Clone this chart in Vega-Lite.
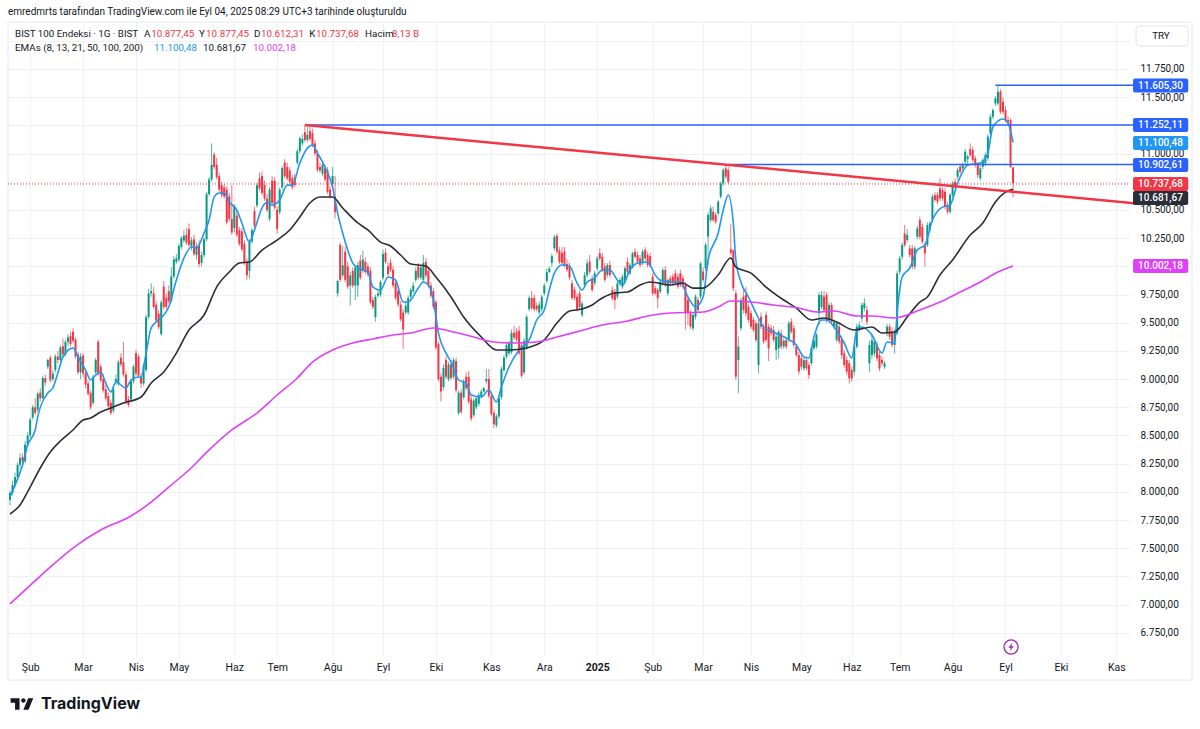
{"$schema":"https://vega.github.io/schema/vega-lite/v6.json","width":1122,"height":634,"autosize":{"type":"none"},"padding":{"left":8,"top":22,"right":70,"bottom":73},"background":"#ffffff","config":{"view":{"stroke":null},"text":{"font":"Roboto"},"axis":{"labelOverlap":false}},
"datasets":{"candles":[
{"t":0,"o":7930,"h":8010,"l":7880,"c":7990},{"t":1,"o":7990,"h":8100,"l":7970,"c":8060},{"t":2,"o":8060,"h":8170,"l":8040,"c":8130},{"t":3,"o":8130,"h":8260,"l":8110,"c":8240},{"t":4,"o":8240,"h":8340,"l":8210,"c":8300},{"t":5,"o":8310,"h":8340,"l":8240,"c":8270},{"t":6,"o":8270,"h":8450,"l":8260,"c":8420},{"t":7,"o":8420,"h":8530,"l":8400,"c":8500},{"t":8,"o":8500,"h":8660,"l":8480,"c":8640},{"t":9,"o":8660,"h":8770,"l":8640,"c":8750},
{"t":10,"o":8750,"h":8830,"l":8680,"c":8700},{"t":11,"o":8730,"h":8890,"l":8710,"c":8870},{"t":12,"o":8880,"h":8920,"l":8800,"c":8830},{"t":13,"o":8830,"h":9030,"l":8820,"c":9010},{"t":14,"o":9010,"h":9040,"l":8940,"c":8970},{"t":15,"o":9110,"h":9180,"l":9090,"c":9170},{"t":16,"o":9190,"h":9210,"l":8970,"c":8990},{"t":17,"o":9000,"h":9080,"l":8980,"c":9050},{"t":18,"o":9080,"h":9220,"l":9060,"c":9200},{"t":19,"o":9200,"h":9250,"l":9140,"c":9170},
{"t":20,"o":9170,"h":9300,"l":9150,"c":9280},{"t":21,"o":9290,"h":9360,"l":9200,"c":9220},{"t":22,"o":9220,"h":9350,"l":9200,"c":9330},{"t":23,"o":9330,"h":9400,"l":9290,"c":9370},{"t":24,"o":9380,"h":9420,"l":9290,"c":9310},{"t":25,"o":9420,"h":9450,"l":9320,"c":9340},{"t":26,"o":9350,"h":9370,"l":9180,"c":9200},{"t":27,"o":9220,"h":9240,"l":9040,"c":9060},{"t":28,"o":9060,"h":9230,"l":9000,"c":9200},{"t":29,"o":9210,"h":9230,"l":9020,"c":9050},
{"t":30,"o":9050,"h":9080,"l":8920,"c":8950},{"t":31,"o":8960,"h":8990,"l":8850,"c":8870},{"t":32,"o":8880,"h":8900,"l":8730,"c":8750},{"t":33,"o":8790,"h":9040,"l":8770,"c":9020},{"t":34,"o":9060,"h":9190,"l":9040,"c":9170},{"t":35,"o":9330,"h":9350,"l":9030,"c":9050},{"t":36,"o":9110,"h":9130,"l":8970,"c":8990},{"t":37,"o":9000,"h":9040,"l":8880,"c":8900},{"t":38,"o":8910,"h":8950,"l":8810,"c":8830},{"t":39,"o":8850,"h":8880,"l":8740,"c":8760},
{"t":40,"o":8790,"h":8820,"l":8680,"c":8700},{"t":41,"o":8720,"h":8930,"l":8700,"c":8910},{"t":42,"o":8970,"h":9040,"l":8950,"c":9000},{"t":43,"o":8960,"h":9170,"l":8940,"c":9150},{"t":44,"o":9190,"h":9230,"l":9110,"c":9130},{"t":45,"o":9150,"h":9330,"l":9020,"c":9040},{"t":46,"o":9040,"h":9070,"l":8780,"c":8800},{"t":47,"o":8820,"h":8850,"l":8750,"c":8770},{"t":48,"o":8820,"h":9000,"l":8800,"c":8980},{"t":49,"o":8980,"h":9130,"l":8960,"c":9110},
{"t":50,"o":9230,"h":9260,"l":9030,"c":9050},{"t":51,"o":9200,"h":9220,"l":9010,"c":9030},{"t":52,"o":9020,"h":9050,"l":8920,"c":8960},{"t":53,"o":8960,"h":9140,"l":8940,"c":9120},{"t":54,"o":9080,"h":9570,"l":9060,"c":9550},{"t":55,"o":9550,"h":9800,"l":9530,"c":9760},{"t":56,"o":9760,"h":9850,"l":9730,"c":9780},{"t":57,"o":9760,"h":9820,"l":9620,"c":9640},{"t":58,"o":9660,"h":9690,"l":9500,"c":9520},{"t":59,"o":9580,"h":9610,"l":9440,"c":9460},
{"t":60,"o":9400,"h":9700,"l":9380,"c":9680},{"t":61,"o":9820,"h":9870,"l":9620,"c":9640},{"t":62,"o":9720,"h":9760,"l":9620,"c":9640},{"t":63,"o":9780,"h":9830,"l":9670,"c":9690},{"t":64,"o":9700,"h":9990,"l":9680,"c":9910},{"t":65,"o":9910,"h":10090,"l":9890,"c":10060},{"t":66,"o":10040,"h":10110,"l":10020,"c":10070},{"t":67,"o":10060,"h":10200,"l":10040,"c":10180},{"t":68,"o":10170,"h":10270,"l":10150,"c":10250},{"t":69,"o":10230,"h":10320,"l":10210,"c":10270},
{"t":70,"o":10280,"h":10340,"l":10190,"c":10210},{"t":71,"o":10330,"h":10380,"l":10170,"c":10190},{"t":72,"o":10180,"h":10260,"l":10140,"c":10230},{"t":73,"o":10240,"h":10280,"l":10090,"c":10110},{"t":74,"o":10100,"h":10210,"l":10060,"c":10180},{"t":75,"o":10190,"h":10230,"l":9990,"c":10020},{"t":76,"o":10030,"h":10130,"l":10000,"c":10100},{"t":77,"o":10100,"h":10260,"l":10080,"c":10240},{"t":78,"o":10240,"h":10660,"l":10220,"c":10640},{"t":79,"o":10640,"h":10790,"l":10620,"c":10770},
{"t":80,"o":10770,"h":11090,"l":10750,"c":10900},{"t":81,"o":10990,"h":11010,"l":10860,"c":10880},{"t":82,"o":10900,"h":10960,"l":10770,"c":10790},{"t":83,"o":10800,"h":10830,"l":10660,"c":10680},{"t":84,"o":10720,"h":10750,"l":10610,"c":10630},{"t":85,"o":10700,"h":10730,"l":10600,"c":10620},{"t":86,"o":10680,"h":10710,"l":10370,"c":10390},{"t":87,"o":10620,"h":10650,"l":10400,"c":10420},{"t":88,"o":10420,"h":10720,"l":10280,"c":10300},{"t":89,"o":10340,"h":10550,"l":10300,"c":10530},
{"t":90,"o":10450,"h":10490,"l":10260,"c":10280},{"t":91,"o":10320,"h":10350,"l":10180,"c":10200},{"t":92,"o":10310,"h":10340,"l":10130,"c":10150},{"t":93,"o":10200,"h":10230,"l":10010,"c":10030},{"t":94,"o":10040,"h":10070,"l":9880,"c":9920},{"t":95,"o":9960,"h":10240,"l":9890,"c":10220},{"t":96,"o":10220,"h":10340,"l":10200,"c":10320},{"t":97,"o":10490,"h":10530,"l":10340,"c":10360},{"t":98,"o":10540,"h":10740,"l":10520,"c":10720},{"t":99,"o":10780,"h":10830,"l":10670,"c":10690},
{"t":100,"o":10800,"h":10840,"l":10630,"c":10650},{"t":101,"o":10720,"h":10760,"l":10580,"c":10600},{"t":102,"o":10600,"h":10640,"l":10480,"c":10500},{"t":103,"o":10420,"h":10700,"l":10400,"c":10680},{"t":104,"o":10760,"h":10800,"l":10540,"c":10560},{"t":105,"o":10760,"h":10790,"l":10500,"c":10520},{"t":106,"o":10500,"h":10530,"l":10290,"c":10330},{"t":107,"o":10480,"h":10700,"l":10460,"c":10680},{"t":108,"o":10700,"h":10890,"l":10680,"c":10870},{"t":109,"o":10920,"h":10950,"l":10780,"c":10800},
{"t":110,"o":10880,"h":10920,"l":10760,"c":10780},{"t":111,"o":10850,"h":10880,"l":10730,"c":10750},{"t":112,"o":10780,"h":10810,"l":10680,"c":10700},{"t":113,"o":10790,"h":10820,"l":10700,"c":10720},{"t":114,"o":10920,"h":11040,"l":10900,"c":11020},{"t":115,"o":11020,"h":11150,"l":11000,"c":11135},{"t":116,"o":11090,"h":11170,"l":11070,"c":11130},{"t":117,"o":11190,"h":11252,"l":11100,"c":11120},{"t":118,"o":11120,"h":11240,"l":11100,"c":11165},{"t":119,"o":11200,"h":11240,"l":11110,"c":11130},
{"t":120,"o":11180,"h":11220,"l":11055,"c":11075},{"t":121,"o":11090,"h":11120,"l":10980,"c":11000},{"t":122,"o":11000,"h":11030,"l":10835,"c":10855},{"t":123,"o":10880,"h":10920,"l":10830,"c":10850},{"t":124,"o":10820,"h":10920,"l":10800,"c":10900},{"t":125,"o":10870,"h":10900,"l":10750,"c":10770},{"t":126,"o":10850,"h":10880,"l":10640,"c":10660},{"t":127,"o":10680,"h":10710,"l":10600,"c":10620},{"t":128,"o":10730,"h":10880,"l":10710,"c":10800},{"t":129,"o":10620,"h":10800,"l":10425,"c":10480},
{"t":130,"o":9760,"h":9880,"l":9730,"c":9870},{"t":131,"o":10190,"h":10210,"l":9860,"c":9880},{"t":132,"o":9920,"h":10180,"l":9900,"c":10010},{"t":133,"o":10130,"h":10170,"l":9860,"c":9880},{"t":134,"o":10000,"h":10040,"l":9800,"c":9820},{"t":135,"o":9830,"h":9950,"l":9650,"c":9920},{"t":136,"o":9960,"h":9990,"l":9810,"c":9830},{"t":137,"o":9830,"h":10010,"l":9700,"c":9990},{"t":138,"o":9830,"h":10040,"l":9730,"c":10010},{"t":139,"o":10050,"h":10100,"l":9880,"c":9900},
{"t":140,"o":9960,"h":10140,"l":9940,"c":10060},{"t":141,"o":10040,"h":10080,"l":9930,"c":9950},{"t":142,"o":10000,"h":10030,"l":9910,"c":9930},{"t":143,"o":9960,"h":9990,"l":9660,"c":9680},{"t":144,"o":9700,"h":9730,"l":9620,"c":9640},{"t":145,"o":9550,"h":9750,"l":9510,"c":9730},{"t":146,"o":9740,"h":9790,"l":9720,"c":9760},{"t":147,"o":9750,"h":9880,"l":9730,"c":9860},{"t":148,"o":9900,"h":10150,"l":9880,"c":10110},{"t":149,"o":10120,"h":10160,"l":10020,"c":10040},
{"t":150,"o":10000,"h":10040,"l":9910,"c":9930},{"t":151,"o":10030,"h":10070,"l":9950,"c":9970},{"t":152,"o":9970,"h":10000,"l":9810,"c":9830},{"t":153,"o":9850,"h":9890,"l":9700,"c":9720},{"t":154,"o":9780,"h":9810,"l":9640,"c":9660},{"t":155,"o":9660,"h":9690,"l":9510,"c":9530},{"t":156,"o":9590,"h":9620,"l":9270,"c":9440},{"t":157,"o":9590,"h":9690,"l":9570,"c":9650},{"t":158,"o":9590,"h":9740,"l":9570,"c":9720},{"t":159,"o":9730,"h":9810,"l":9700,"c":9790},
{"t":160,"o":9780,"h":9860,"l":9760,"c":9830},{"t":161,"o":9880,"h":9990,"l":9860,"c":9960},{"t":162,"o":10000,"h":10030,"l":9880,"c":9900},{"t":163,"o":9900,"h":10010,"l":9880,"c":9990},{"t":164,"o":9880,"h":10100,"l":9860,"c":10030},{"t":165,"o":10040,"h":10070,"l":9900,"c":9920},{"t":166,"o":9960,"h":9990,"l":9810,"c":9830},{"t":167,"o":9830,"h":9860,"l":9720,"c":9740},{"t":168,"o":9780,"h":9810,"l":9620,"c":9640},{"t":169,"o":9680,"h":9700,"l":9260,"c":9280},
{"t":170,"o":9310,"h":9330,"l":8980,"c":9000},{"t":171,"o":9020,"h":9050,"l":8800,"c":8890},{"t":172,"o":8930,"h":9130,"l":8900,"c":9100},{"t":173,"o":9170,"h":9200,"l":9000,"c":9020},{"t":174,"o":9000,"h":9150,"l":8980,"c":9130},{"t":175,"o":9130,"h":9170,"l":8990,"c":9010},{"t":176,"o":9020,"h":9190,"l":9000,"c":9170},{"t":177,"o":9160,"h":9190,"l":8880,"c":8900},{"t":178,"o":8700,"h":8900,"l":8680,"c":8880},{"t":179,"o":8880,"h":8910,"l":8690,"c":8710},
{"t":180,"o":8840,"h":9000,"l":8820,"c":8980},{"t":181,"o":9020,"h":9060,"l":8900,"c":8920},{"t":182,"o":9020,"h":9070,"l":8780,"c":8800},{"t":183,"o":8820,"h":8850,"l":8630,"c":8650},{"t":184,"o":8680,"h":8830,"l":8660,"c":8810},{"t":185,"o":8750,"h":8850,"l":8730,"c":8830},{"t":186,"o":8780,"h":8880,"l":8760,"c":8860},{"t":187,"o":8850,"h":8910,"l":8830,"c":8890},{"t":188,"o":8890,"h":8930,"l":8880,"c":8920},{"t":189,"o":8980,"h":9090,"l":8960,"c":9000},
{"t":190,"o":9000,"h":9090,"l":8830,"c":8850},{"t":191,"o":8850,"h":8880,"l":8670,"c":8690},{"t":192,"o":8700,"h":8730,"l":8566,"c":8600},{"t":193,"o":8590,"h":8690,"l":8570,"c":8670},{"t":194,"o":8670,"h":8850,"l":8650,"c":8830},{"t":195,"o":8840,"h":9110,"l":8820,"c":9090},{"t":196,"o":9080,"h":9210,"l":9060,"c":9190},{"t":197,"o":9200,"h":9330,"l":9180,"c":9300},{"t":198,"o":9230,"h":9340,"l":9210,"c":9320},{"t":199,"o":9240,"h":9440,"l":9220,"c":9410},
{"t":200,"o":9410,"h":9470,"l":9350,"c":9370},{"t":201,"o":9420,"h":9450,"l":9330,"c":9350},{"t":202,"o":9430,"h":9470,"l":9210,"c":9230},{"t":203,"o":9300,"h":9330,"l":9010,"c":9030},{"t":204,"o":9060,"h":9360,"l":9040,"c":9340},{"t":205,"o":9280,"h":9570,"l":9260,"c":9550},{"t":206,"o":9620,"h":9740,"l":9600,"c":9720},{"t":207,"o":9720,"h":9780,"l":9610,"c":9630},{"t":208,"o":9720,"h":9750,"l":9600,"c":9620},{"t":209,"o":9650,"h":9680,"l":9600,"c":9620},
{"t":210,"o":9590,"h":9690,"l":9570,"c":9660},{"t":211,"o":9620,"h":9750,"l":9600,"c":9730},{"t":212,"o":9760,"h":9850,"l":9740,"c":9830},{"t":213,"o":9870,"h":9980,"l":9850,"c":9950},{"t":214,"o":9950,"h":10000,"l":9940,"c":9980},{"t":215,"o":10030,"h":10110,"l":9990,"c":10090},{"t":216,"o":10160,"h":10280,"l":10140,"c":10260},{"t":217,"o":10270,"h":10290,"l":10110,"c":10130},{"t":218,"o":10140,"h":10170,"l":10020,"c":10040},{"t":219,"o":10120,"h":10170,"l":10010,"c":10030},
{"t":220,"o":10130,"h":10170,"l":9990,"c":10010},{"t":221,"o":10020,"h":10060,"l":9950,"c":9970},{"t":222,"o":10000,"h":10030,"l":9880,"c":9900},{"t":223,"o":9850,"h":9880,"l":9700,"c":9720},{"t":224,"o":9790,"h":9820,"l":9700,"c":9720},{"t":225,"o":9730,"h":9760,"l":9600,"c":9620},{"t":226,"o":9760,"h":9790,"l":9620,"c":9640},{"t":227,"o":9570,"h":9690,"l":9550,"c":9670},{"t":228,"o":9835,"h":9950,"l":9810,"c":9920},{"t":229,"o":9920,"h":10060,"l":9900,"c":10026},
{"t":230,"o":10041,"h":10100,"l":9930,"c":9952},{"t":231,"o":9893,"h":9920,"l":9770,"c":9790},{"t":232,"o":9850,"h":9960,"l":9830,"c":9938},{"t":233,"o":9982,"h":10090,"l":9960,"c":10070},{"t":234,"o":10115,"h":10160,"l":10050,"c":10070},{"t":235,"o":10085,"h":10120,"l":9950,"c":9967},{"t":236,"o":9997,"h":10030,"l":9860,"c":9880},{"t":237,"o":9923,"h":10030,"l":9900,"c":10011},{"t":238,"o":10011,"h":10050,"l":9900,"c":9923},{"t":239,"o":9790,"h":9820,"l":9695,"c":9716},
{"t":240,"o":9775,"h":9800,"l":9620,"c":9701},{"t":241,"o":9731,"h":9870,"l":9710,"c":9849},{"t":242,"o":9849,"h":9900,"l":9830,"c":9880},{"t":243,"o":9820,"h":9930,"l":9800,"c":9908},{"t":244,"o":9864,"h":10000,"l":9840,"c":9982},{"t":245,"o":10041,"h":10080,"l":9930,"c":9952},{"t":246,"o":9938,"h":10030,"l":9920,"c":10011},{"t":247,"o":9997,"h":10130,"l":9980,"c":10115},{"t":248,"o":10130,"h":10160,"l":10070,"c":10085},{"t":249,"o":10100,"h":10130,"l":10020,"c":10041},
{"t":250,"o":10070,"h":10100,"l":9990,"c":10011},{"t":251,"o":10026,"h":10150,"l":10010,"c":10130},{"t":252,"o":10145,"h":10170,"l":10050,"c":10071},{"t":253,"o":10100,"h":10130,"l":9990,"c":10011},{"t":254,"o":10090,"h":10120,"l":9985,"c":10003},{"t":255,"o":9908,"h":9940,"l":9740,"c":9760},{"t":256,"o":9805,"h":9830,"l":9745,"c":9760},{"t":257,"o":9790,"h":9810,"l":9627,"c":9716},{"t":258,"o":9775,"h":9880,"l":9755,"c":9864},{"t":259,"o":9849,"h":9990,"l":9830,"c":9967},
{"t":260,"o":9967,"h":10000,"l":9815,"c":9834},{"t":261,"o":9760,"h":9895,"l":9740,"c":9878},{"t":262,"o":9893,"h":9920,"l":9830,"c":9849},{"t":263,"o":9908,"h":9935,"l":9830,"c":9849},{"t":264,"o":9938,"h":9970,"l":9830,"c":9849},{"t":265,"o":9908,"h":9935,"l":9800,"c":9820},{"t":266,"o":9938,"h":9970,"l":9815,"c":9834},{"t":267,"o":9893,"h":9920,"l":9800,"c":9820},{"t":268,"o":9834,"h":9860,"l":9440,"c":9583},{"t":269,"o":9701,"h":9730,"l":9480,"c":9583},
{"t":270,"o":9583,"h":9610,"l":9445,"c":9465},{"t":271,"o":9450,"h":9590,"l":9430,"c":9568},{"t":272,"o":9553,"h":9750,"l":9530,"c":9731},{"t":273,"o":9701,"h":9730,"l":9590,"c":9613},{"t":274,"o":9731,"h":10040,"l":9710,"c":10026},{"t":275,"o":9953,"h":9990,"l":9860,"c":9879},{"t":276,"o":9982,"h":10210,"l":9960,"c":10189},{"t":277,"o":10263,"h":10480,"l":10010,"c":10455},{"t":278,"o":10410,"h":10540,"l":10390,"c":10514},{"t":279,"o":10484,"h":10530,"l":10390,"c":10410},
{"t":280,"o":10455,"h":10480,"l":10375,"c":10396},{"t":281,"o":10470,"h":10590,"l":10450,"c":10573},{"t":282,"o":10617,"h":10750,"l":10600,"c":10735},{"t":283,"o":10735,"h":10870,"l":10715,"c":10854},{"t":284,"o":10868,"h":10902,"l":10775,"c":10795},{"t":285,"o":10854,"h":10880,"l":10730,"c":10750},{"t":286,"o":10150,"h":10370,"l":10100,"c":10120},{"t":287,"o":10140,"h":10150,"l":9780,"c":9805},{"t":288,"o":9760,"h":9790,"l":8990,"c":9022},{"t":289,"o":9170,"h":9376,"l":8874,"c":9288},
{"t":290,"o":9450,"h":9720,"l":9430,"c":9701},{"t":291,"o":9731,"h":9800,"l":9580,"c":9613},{"t":292,"o":9746,"h":9820,"l":9560,"c":9583},{"t":293,"o":9642,"h":9670,"l":9500,"c":9524},{"t":294,"o":9583,"h":9610,"l":9445,"c":9465},{"t":295,"o":9524,"h":9550,"l":9415,"c":9435},{"t":296,"o":9494,"h":9520,"l":9325,"c":9347},{"t":297,"o":9125,"h":9520,"l":9050,"c":9494},{"t":298,"o":9553,"h":9590,"l":9445,"c":9465},{"t":299,"o":9465,"h":9490,"l":9310,"c":9332},
{"t":300,"o":9568,"h":9600,"l":9325,"c":9347},{"t":301,"o":9465,"h":9490,"l":9160,"c":9273},{"t":302,"o":9450,"h":9480,"l":9385,"c":9406},{"t":303,"o":9435,"h":9470,"l":9325,"c":9347},{"t":304,"o":9258,"h":9400,"l":9170,"c":9376},{"t":305,"o":9273,"h":9440,"l":9180,"c":9420},{"t":306,"o":9406,"h":9440,"l":9265,"c":9288},{"t":307,"o":9290,"h":9360,"l":9270,"c":9340},{"t":308,"o":9347,"h":9370,"l":9265,"c":9288},{"t":309,"o":9347,"h":9515,"l":9325,"c":9494},
{"t":310,"o":9509,"h":9540,"l":9400,"c":9420},{"t":311,"o":9450,"h":9480,"l":9280,"c":9302},{"t":312,"o":9288,"h":9310,"l":9195,"c":9214},{"t":313,"o":9214,"h":9240,"l":9040,"c":9066},{"t":314,"o":9184,"h":9210,"l":9085,"c":9110},{"t":315,"o":9095,"h":9190,"l":9075,"c":9169},{"t":316,"o":9169,"h":9200,"l":9075,"c":9095},{"t":317,"o":9125,"h":9150,"l":9000,"c":9036},{"t":318,"o":9140,"h":9290,"l":9120,"c":9273},{"t":319,"o":9273,"h":9360,"l":9255,"c":9340},
{"t":320,"o":9288,"h":9410,"l":9270,"c":9391},{"t":321,"o":9583,"h":9770,"l":9480,"c":9746},{"t":322,"o":9640,"h":9780,"l":9620,"c":9746},{"t":323,"o":9731,"h":9780,"l":9590,"c":9613},{"t":324,"o":9746,"h":9770,"l":9500,"c":9524},{"t":325,"o":9524,"h":9680,"l":9500,"c":9657},{"t":326,"o":9657,"h":9680,"l":9490,"c":9509},{"t":327,"o":9465,"h":9530,"l":9445,"c":9509},{"t":328,"o":9347,"h":9510,"l":9325,"c":9494},{"t":329,"o":9465,"h":9490,"l":9310,"c":9332},
{"t":330,"o":9346,"h":9380,"l":9180,"c":9213},{"t":331,"o":9228,"h":9260,"l":9100,"c":9125},{"t":332,"o":9169,"h":9200,"l":9040,"c":9066},{"t":333,"o":9140,"h":9170,"l":8962,"c":9007},{"t":334,"o":9080,"h":9110,"l":8977,"c":9007},{"t":335,"o":9066,"h":9300,"l":9030,"c":9287},{"t":336,"o":9287,"h":9490,"l":9270,"c":9465},{"t":337,"o":9450,"h":9510,"l":9420,"c":9479},{"t":338,"o":9538,"h":9680,"l":9510,"c":9657},{"t":339,"o":9627,"h":9716,"l":9600,"c":9672},
{"t":340,"o":9612,"h":9650,"l":9480,"c":9509},{"t":341,"o":9140,"h":9340,"l":9060,"c":9302},{"t":342,"o":9213,"h":9406,"l":9180,"c":9346},{"t":343,"o":9228,"h":9350,"l":9200,"c":9332},{"t":344,"o":9302,"h":9330,"l":9160,"c":9184},{"t":345,"o":9213,"h":9240,"l":9070,"c":9095},{"t":346,"o":9169,"h":9200,"l":9120,"c":9140},{"t":347,"o":9110,"h":9160,"l":9090,"c":9140},{"t":348,"o":9406,"h":9490,"l":9380,"c":9465},{"t":349,"o":9465,"h":9490,"l":9350,"c":9376},
{"t":350,"o":9420,"h":9460,"l":9280,"c":9302},{"t":351,"o":9302,"h":9440,"l":9228,"c":9420},{"t":352,"o":9406,"h":9960,"l":9390,"c":9937},{"t":353,"o":9952,"h":10090,"l":9930,"c":10070},{"t":354,"o":10085,"h":10210,"l":10060,"c":10189},{"t":355,"o":10292,"h":10366,"l":10170,"c":10189},{"t":356,"o":10233,"h":10330,"l":10210,"c":10277},{"t":357,"o":10159,"h":10190,"l":10080,"c":10100},{"t":358,"o":10159,"h":10190,"l":9975,"c":9997},{"t":359,"o":9997,"h":10180,"l":9970,"c":10159},
{"t":360,"o":10262,"h":10360,"l":10240,"c":10336},{"t":361,"o":10410,"h":10440,"l":10240,"c":10262},{"t":362,"o":10351,"h":10380,"l":10195,"c":10218},{"t":363,"o":10189,"h":10210,"l":9997,"c":10115},{"t":364,"o":10189,"h":10390,"l":10170,"c":10366},{"t":365,"o":10322,"h":10400,"l":10300,"c":10381},{"t":366,"o":10410,"h":10640,"l":10390,"c":10617},{"t":367,"o":10632,"h":10660,"l":10570,"c":10588},{"t":368,"o":10632,"h":10660,"l":10550,"c":10573},{"t":369,"o":10691,"h":10780,"l":10580,"c":10602},
{"t":370,"o":10676,"h":10700,"l":10580,"c":10602},{"t":371,"o":10661,"h":10690,"l":10505,"c":10528},{"t":372,"o":10543,"h":10570,"l":10460,"c":10484},{"t":373,"o":10484,"h":10650,"l":10465,"c":10632},{"t":374,"o":10632,"h":10755,"l":10610,"c":10735},{"t":375,"o":10750,"h":10780,"l":10685,"c":10706},{"t":376,"o":10794,"h":10875,"l":10770,"c":10853},{"t":377,"o":10883,"h":10910,"l":10820,"c":10839},{"t":378,"o":10868,"h":10920,"l":10850,"c":10898},{"t":379,"o":10927,"h":11040,"l":10905,"c":11016},
{"t":380,"o":10950,"h":10990,"l":10900,"c":10975},{"t":381,"o":11040,"h":11090,"l":10965,"c":10986},{"t":382,"o":11031,"h":11060,"l":10920,"c":10942},{"t":383,"o":10957,"h":10980,"l":10875,"c":10898},{"t":384,"o":10898,"h":10920,"l":10780,"c":10809},{"t":385,"o":10781,"h":10890,"l":10760,"c":10868},{"t":386,"o":10883,"h":10960,"l":10860,"c":10942},{"t":387,"o":10912,"h":11010,"l":10890,"c":10986},{"t":388,"o":10957,"h":11170,"l":10935,"c":11149},{"t":389,"o":11179,"h":11350,"l":11160,"c":11326},
{"t":390,"o":11326,"h":11400,"l":11305,"c":11385},{"t":391,"o":11444,"h":11510,"l":11420,"c":11489},{"t":392,"o":11444,"h":11605,"l":11425,"c":11548},{"t":393,"o":11548,"h":11570,"l":11350,"c":11371},{"t":394,"o":11459,"h":11500,"l":11350,"c":11371},{"t":395,"o":11385,"h":11420,"l":11275,"c":11297},{"t":396,"o":11297,"h":11330,"l":11250,"c":11282},{"t":397,"o":11297,"h":11310,"l":10870,"c":10883},{"t":398,"o":10877,"h":10877,"l":10612,"c":10737}
],
"emas":[
{"t":0,"v":7955,"s":"ema-fast"},{"t":2,"v":8060,"s":"ema-fast"},{"t":5,"v":8238,"s":"ema-fast"},{"t":7,"v":8415,"s":"ema-fast"},{"t":10,"v":8549,"s":"ema-fast"},{"t":11,"v":8664,"s":"ema-fast"},{"t":15,"v":8877,"s":"ema-fast"},{"t":17,"v":8921,"s":"ema-fast"},{"t":19,"v":9054,"s":"ema-fast"},{"t":21,"v":9196,"s":"ema-fast"},{"t":25,"v":9276,"s":"ema-fast"},{"t":27,"v":9196,"s":"ema-fast"},{"t":30,"v":9080,"s":"ema-fast"},{"t":32,"v":8992,"s":"ema-fast"},{"t":34,"v":9036,"s":"ema-fast"},{"t":36,"v":9063,"s":"ema-fast"},{"t":38,"v":8965,"s":"ema-fast"},{"t":40,"v":8886,"s":"ema-fast"},{"t":42,"v":8974,"s":"ema-fast"},{"t":46,"v":8921,"s":"ema-fast"},{"t":48,"v":8992,"s":"ema-fast"},{"t":51,"v":9019,"s":"ema-fast"},{"t":52,"v":9019,"s":"ema-fast"},{"t":54,"v":9231,"s":"ema-fast"},{"t":56,"v":9453,"s":"ema-fast"},{"t":58,"v":9506,"s":"ema-fast"},{"t":61,"v":9568,"s":"ema-fast"},{"t":63,"v":9639,"s":"ema-fast"},{"t":66,"v":9878,"s":"ema-fast"},{"t":69,"v":10073,"s":"ema-fast"},{"t":72,"v":10171,"s":"ema-fast"},{"t":74,"v":10162,"s":"ema-fast"},{"t":77,"v":10295,"s":"ema-fast"},{"t":79,"v":10410,"s":"ema-fast"},{"t":81,"v":10614,"s":"ema-fast"},{"t":83,"v":10650,"s":"ema-fast"},{"t":85,"v":10650,"s":"ema-fast"},{"t":87,"v":10570,"s":"ema-fast"},{"t":90,"v":10499,"s":"ema-fast"},{"t":92,"v":10384,"s":"ema-fast"},{"t":95,"v":10215,"s":"ema-fast"},{"t":97,"v":10322,"s":"ema-fast"},{"t":100,"v":10517,"s":"ema-fast"},{"t":102,"v":10570,"s":"ema-fast"},{"t":104,"v":10543,"s":"ema-fast"},{"t":107,"v":10588,"s":"ema-fast"},{"t":110,"v":10720,"s":"ema-fast"},{"t":112,"v":10720,"s":"ema-fast"},{"t":115,"v":10916,"s":"ema-fast"},{"t":118,"v":11048,"s":"ema-fast"},{"t":120,"v":11075,"s":"ema-fast"},{"t":122,"v":11004,"s":"ema-fast"},{"t":125,"v":10880,"s":"ema-fast"},{"t":128,"v":10703,"s":"ema-fast"},{"t":130,"v":10472,"s":"ema-fast"},{"t":132,"v":10295,"s":"ema-fast"},{"t":134,"v":10144,"s":"ema-fast"},{"t":136,"v":10029,"s":"ema-fast"},{"t":138,"v":9985,"s":"ema-fast"},{"t":142,"v":9949,"s":"ema-fast"},{"t":144,"v":9816,"s":"ema-fast"},{"t":147,"v":9790,"s":"ema-fast"},{"t":150,"v":9905,"s":"ema-fast"},{"t":153,"v":9878,"s":"ema-fast"},{"t":156,"v":9683,"s":"ema-fast"},{"t":158,"v":9683,"s":"ema-fast"},{"t":162,"v":9807,"s":"ema-fast"},{"t":164,"v":9861,"s":"ema-fast"},{"t":166,"v":9834,"s":"ema-fast"},{"t":168,"v":9701,"s":"ema-fast"},{"t":170,"v":9408,"s":"ema-fast"},{"t":173,"v":9231,"s":"ema-fast"},{"t":175,"v":9151,"s":"ema-fast"},{"t":178,"v":8992,"s":"ema-fast"},{"t":181,"v":8965,"s":"ema-fast"},{"t":183,"v":8859,"s":"ema-fast"},{"t":187,"v":8841,"s":"ema-fast"},{"t":190,"v":8903,"s":"ema-fast"},{"t":193,"v":8797,"s":"ema-fast"},{"t":195,"v":8930,"s":"ema-fast"},{"t":198,"v":9107,"s":"ema-fast"},{"t":202,"v":9258,"s":"ema-fast"},{"t":206,"v":9347,"s":"ema-fast"},{"t":209,"v":9524,"s":"ema-fast"},{"t":212,"v":9612,"s":"ema-fast"},{"t":214,"v":9790,"s":"ema-fast"},{"t":216,"v":9940,"s":"ema-fast"},{"t":219,"v":10011,"s":"ema-fast"},{"t":222,"v":10002,"s":"ema-fast"},{"t":225,"v":9852,"s":"ema-fast"},{"t":227,"v":9790,"s":"ema-fast"},{"t":229,"v":9861,"s":"ema-fast"},{"t":232,"v":9896,"s":"ema-fast"},{"t":235,"v":9967,"s":"ema-fast"},{"t":238,"v":9967,"s":"ema-fast"},{"t":241,"v":9878,"s":"ema-fast"},{"t":243,"v":9834,"s":"ema-fast"},{"t":246,"v":9967,"s":"ema-fast"},{"t":249,"v":10029,"s":"ema-fast"},{"t":253,"v":10038,"s":"ema-fast"},{"t":256,"v":9923,"s":"ema-fast"},{"t":258,"v":9878,"s":"ema-fast"},{"t":262,"v":9861,"s":"ema-fast"},{"t":266,"v":9861,"s":"ema-fast"},{"t":269,"v":9728,"s":"ema-fast"},{"t":272,"v":9639,"s":"ema-fast"},{"t":275,"v":9728,"s":"ema-fast"},{"t":277,"v":10056,"s":"ema-fast"},{"t":281,"v":10295,"s":"ema-fast"},{"t":283,"v":10499,"s":"ema-fast"},{"t":285,"v":10632,"s":"ema-fast"},{"t":287,"v":10384,"s":"ema-fast"},{"t":288,"v":10056,"s":"ema-fast"},{"t":290,"v":9861,"s":"ema-fast"},{"t":293,"v":9728,"s":"ema-fast"},{"t":296,"v":9586,"s":"ema-fast"},{"t":299,"v":9462,"s":"ema-fast"},{"t":303,"v":9417,"s":"ema-fast"},{"t":308,"v":9364,"s":"ema-fast"},{"t":312,"v":9302,"s":"ema-fast"},{"t":315,"v":9196,"s":"ema-fast"},{"t":317,"v":9187,"s":"ema-fast"},{"t":319,"v":9373,"s":"ema-fast"},{"t":322,"v":9524,"s":"ema-fast"},{"t":324,"v":9524,"s":"ema-fast"},{"t":327,"v":9462,"s":"ema-fast"},{"t":331,"v":9320,"s":"ema-fast"},{"t":334,"v":9187,"s":"ema-fast"},{"t":336,"v":9435,"s":"ema-fast"},{"t":338,"v":9462,"s":"ema-fast"},{"t":342,"v":9391,"s":"ema-fast"},{"t":346,"v":9231,"s":"ema-fast"},{"t":348,"v":9329,"s":"ema-fast"},{"t":351,"v":9320,"s":"ema-fast"},{"t":352,"v":9586,"s":"ema-fast"},{"t":354,"v":9905,"s":"ema-fast"},{"t":357,"v":9985,"s":"ema-fast"},{"t":360,"v":10144,"s":"ema-fast"},{"t":363,"v":10189,"s":"ema-fast"},{"t":366,"v":10410,"s":"ema-fast"},{"t":370,"v":10525,"s":"ema-fast"},{"t":373,"v":10543,"s":"ema-fast"},{"t":376,"v":10738,"s":"ema-fast"},{"t":380,"v":10898,"s":"ema-fast"},{"t":385,"v":10916,"s":"ema-fast"},{"t":388,"v":11004,"s":"ema-fast"},{"t":390,"v":11235,"s":"ema-fast"},{"t":394,"v":11306,"s":"ema-fast"},{"t":396,"v":11270,"s":"ema-fast"},{"t":398,"v":11100,"s":"ema-fast"},
{"t":0,"v":7804,"s":"ema-mid"},{"t":4,"v":7884,"s":"ema-mid"},{"t":8,"v":8043,"s":"ema-mid"},{"t":12,"v":8212,"s":"ema-mid"},{"t":16,"v":8354,"s":"ema-mid"},{"t":20,"v":8451,"s":"ema-mid"},{"t":25,"v":8549,"s":"ema-mid"},{"t":29,"v":8637,"s":"ema-mid"},{"t":32,"v":8655,"s":"ema-mid"},{"t":36,"v":8708,"s":"ema-mid"},{"t":40,"v":8744,"s":"ema-mid"},{"t":45,"v":8788,"s":"ema-mid"},{"t":52,"v":8841,"s":"ema-mid"},{"t":56,"v":8965,"s":"ema-mid"},{"t":61,"v":9063,"s":"ema-mid"},{"t":66,"v":9231,"s":"ema-mid"},{"t":71,"v":9435,"s":"ema-mid"},{"t":77,"v":9568,"s":"ema-mid"},{"t":82,"v":9816,"s":"ema-mid"},{"t":87,"v":9949,"s":"ema-mid"},{"t":91,"v":10029,"s":"ema-mid"},{"t":95,"v":10038,"s":"ema-mid"},{"t":100,"v":10144,"s":"ema-mid"},{"t":106,"v":10233,"s":"ema-mid"},{"t":111,"v":10322,"s":"ema-mid"},{"t":115,"v":10437,"s":"ema-mid"},{"t":119,"v":10561,"s":"ema-mid"},{"t":123,"v":10614,"s":"ema-mid"},{"t":128,"v":10614,"s":"ema-mid"},{"t":132,"v":10517,"s":"ema-mid"},{"t":138,"v":10384,"s":"ema-mid"},{"t":142,"v":10322,"s":"ema-mid"},{"t":147,"v":10215,"s":"ema-mid"},{"t":151,"v":10180,"s":"ema-mid"},{"t":155,"v":10100,"s":"ema-mid"},{"t":159,"v":10020,"s":"ema-mid"},{"t":165,"v":10002,"s":"ema-mid"},{"t":169,"v":9905,"s":"ema-mid"},{"t":175,"v":9728,"s":"ema-mid"},{"t":180,"v":9550,"s":"ema-mid"},{"t":187,"v":9373,"s":"ema-mid"},{"t":193,"v":9258,"s":"ema-mid"},{"t":198,"v":9258,"s":"ema-mid"},{"t":205,"v":9276,"s":"ema-mid"},{"t":212,"v":9347,"s":"ema-mid"},{"t":217,"v":9497,"s":"ema-mid"},{"t":222,"v":9604,"s":"ema-mid"},{"t":227,"v":9621,"s":"ema-mid"},{"t":231,"v":9657,"s":"ema-mid"},{"t":235,"v":9719,"s":"ema-mid"},{"t":240,"v":9763,"s":"ema-mid"},{"t":245,"v":9772,"s":"ema-mid"},{"t":250,"v":9834,"s":"ema-mid"},{"t":254,"v":9861,"s":"ema-mid"},{"t":262,"v":9834,"s":"ema-mid"},{"t":267,"v":9852,"s":"ema-mid"},{"t":271,"v":9807,"s":"ema-mid"},{"t":275,"v":9807,"s":"ema-mid"},{"t":281,"v":9923,"s":"ema-mid"},{"t":286,"v":10073,"s":"ema-mid"},{"t":288,"v":9993,"s":"ema-mid"},{"t":294,"v":9940,"s":"ema-mid"},{"t":300,"v":9816,"s":"ema-mid"},{"t":307,"v":9701,"s":"ema-mid"},{"t":312,"v":9630,"s":"ema-mid"},{"t":318,"v":9524,"s":"ema-mid"},{"t":323,"v":9542,"s":"ema-mid"},{"t":328,"v":9506,"s":"ema-mid"},{"t":335,"v":9435,"s":"ema-mid"},{"t":342,"v":9462,"s":"ema-mid"},{"t":346,"v":9409,"s":"ema-mid"},{"t":351,"v":9417,"s":"ema-mid"},{"t":356,"v":9550,"s":"ema-mid"},{"t":361,"v":9683,"s":"ema-mid"},{"t":364,"v":9728,"s":"ema-mid"},{"t":369,"v":9923,"s":"ema-mid"},{"t":374,"v":10056,"s":"ema-mid"},{"t":381,"v":10277,"s":"ema-mid"},{"t":386,"v":10384,"s":"ema-mid"},{"t":391,"v":10570,"s":"ema-mid"},{"t":395,"v":10658,"s":"ema-mid"},{"t":398,"v":10682,"s":"ema-mid"},
{"t":0,"v":7006,"s":"ema-slow"},{"t":12,"v":7254,"s":"ema-slow"},{"t":26,"v":7520,"s":"ema-slow"},{"t":36,"v":7662,"s":"ema-slow"},{"t":48,"v":7786,"s":"ema-slow"},{"t":56,"v":7910,"s":"ema-slow"},{"t":63,"v":8043,"s":"ema-slow"},{"t":71,"v":8194,"s":"ema-slow"},{"t":79,"v":8372,"s":"ema-slow"},{"t":88,"v":8549,"s":"ema-slow"},{"t":98,"v":8699,"s":"ema-slow"},{"t":106,"v":8859,"s":"ema-slow"},{"t":114,"v":9010,"s":"ema-slow"},{"t":120,"v":9151,"s":"ema-slow"},{"t":128,"v":9258,"s":"ema-slow"},{"t":136,"v":9320,"s":"ema-slow"},{"t":144,"v":9356,"s":"ema-slow"},{"t":152,"v":9391,"s":"ema-slow"},{"t":159,"v":9409,"s":"ema-slow"},{"t":168,"v":9453,"s":"ema-slow"},{"t":176,"v":9417,"s":"ema-slow"},{"t":184,"v":9373,"s":"ema-slow"},{"t":192,"v":9329,"s":"ema-slow"},{"t":200,"v":9320,"s":"ema-slow"},{"t":209,"v":9329,"s":"ema-slow"},{"t":217,"v":9373,"s":"ema-slow"},{"t":226,"v":9426,"s":"ema-slow"},{"t":235,"v":9479,"s":"ema-slow"},{"t":245,"v":9515,"s":"ema-slow"},{"t":253,"v":9559,"s":"ema-slow"},{"t":262,"v":9586,"s":"ema-slow"},{"t":275,"v":9595,"s":"ema-slow"},{"t":281,"v":9639,"s":"ema-slow"},{"t":286,"v":9692,"s":"ema-slow"},{"t":294,"v":9683,"s":"ema-slow"},{"t":303,"v":9657,"s":"ema-slow"},{"t":313,"v":9630,"s":"ema-slow"},{"t":320,"v":9595,"s":"ema-slow"},{"t":327,"v":9604,"s":"ema-slow"},{"t":336,"v":9559,"s":"ema-slow"},{"t":342,"v":9559,"s":"ema-slow"},{"t":351,"v":9542,"s":"ema-slow"},{"t":361,"v":9612,"s":"ema-slow"},{"t":369,"v":9683,"s":"ema-slow"},{"t":377,"v":9772,"s":"ema-slow"},{"t":385,"v":9861,"s":"ema-slow"},{"t":392,"v":9949,"s":"ema-slow"},{"t":398,"v":10002,"s":"ema-slow"}
]},
"layer":[
{"data":{"values":[{"a":-0.79,"b":469,"top":12165,"bot":6332}]},"mark":{"type":"rect","fill":null,"fillOpacity":0,"stroke":"#e6e8ee","strokeWidth":1},"encoding":{"x":{"field":"a","type":"quantitative","scale":{"domain":[-0.794,444.4],"nice":false,"zero":false,"padding":0},
"axis":{"title":null,"orient":"bottom","tickCount":40,"values":[8,29,50,67,89,106,128,148,169,191,212,233,255,275,294,314,334,353,374,395,417,439],"labelExpr":"{'8':'Şub','29':'Mar','50':'Nis','67':'May','89':'Haz','106':'Tem','128':'Ağu','148':'Eyl','169':'Eki','191':'Kas','212':'Ara','233':'2025','255':'Şub','275':'Mar','294':'Nis','314':'May','334':'Haz','353':'Tem','374':'Ağu','395':'Eyl','417':'Eki','439':'Kas'}[''+datum.value]","labelFont":"Roboto","labelFontSize":10.5,"labelColor":"#131722","labelPadding":6,"labelOverlap":false,"labelBound":false,"labelFlush":false,"ticks":false,"domain":false,"grid":true,"gridColor":"#eff1f5","gridWidth":1,"labelFontWeight":{"condition":{"test":"datum.value==233","value":"bold"},"value":"normal"}}},
"x2":{"field":"b"},
"y":{"field":"top","type":"quantitative","scale":{"domain":[6545,12166],"nice":false,"zero":false},
"axis":{"title":null,"orient":"right","tickCount":40,"values":[6750,7000,7250,7500,7750,8000,8250,8500,8750,9000,9250,9500,9750,10000,10250,10500,10750,11000,11250,11500,11750,12000],"labelExpr":"(datum.value==12000||datum.value==11250||datum.value==10750)?' ':replace(replace(replace(format(datum.value,',.2f'),',','#'),'.',','),'#','.')","labelFont":"Roboto","labelFontSize":10,"labelColor":"#131722","labelPadding":10,"labelOverlap":false,"labelSeparation":0,"labelBound":false,"ticks":false,"domain":false,"grid":true,"gridColor":"#eff1f5","gridWidth":1}},
"y2":{"field":"bot"}}},
{"data":{"name":"candles"},"mark":{"type":"rule","strokeWidth":1,"opacity":0.7},"encoding":{"x":{"field":"t","type":"quantitative"},"y":{"field":"l","type":"quantitative"},"y2":{"field":"h"},"color":{"condition":{"test":"datum.c>=datum.o","value":"#089981"},"value":"#f23645"}}},
{"data":{"name":"candles"},"mark":{"type":"bar","size":2},"encoding":{"x":{"field":"t","type":"quantitative"},"y":{"field":"o","type":"quantitative"},"y2":{"field":"c"},"color":{"condition":{"test":"datum.c>=datum.o","value":"#089981"},"value":"#f23645"}}},
{"data":{"name":"emas"},"mark":{"type":"line","strokeWidth":1.6,"interpolate":"monotone"},"encoding":{"x":{"field":"t","type":"quantitative"},"y":{"field":"v","type":"quantitative"},"color":{"field":"s","type":"nominal","legend":null,"scale":{"domain":["ink","price","level","ema-fast","ema-mid","ema-slow","white"],"range":["#131722","#f23645","#2962ff","#2196f3","#2a2e39","#e040fb","#ffffff"]}}}},
{"data":{"values":[{"a":-0.794,"b":444.4,"p":10730}]},"mark":{"type":"rule","stroke":"#f23645","strokeWidth":1,"strokeDash":[1,2]},"encoding":{"x":{"field":"a","type":"quantitative"},"x2":{"field":"b"},"y":{"field":"p","type":"quantitative"}}},
{"data":{"values":[{"a":117,"b":446,"p":11252.11},{"a":285,"b":446,"p":10902.61},{"a":391,"b":446,"p":11605.3}]},"mark":{"type":"rule","stroke":"#2962ff","strokeWidth":1.5},"encoding":{"x":{"field":"a","type":"quantitative"},"x2":{"field":"b"},"y":{"field":"p","type":"quantitative"}}},
{"data":{"values":[{"t":117,"p":11252.11},{"t":446,"p":10560}]},"mark":{"type":"line","stroke":"#f23645","strokeWidth":2.5},"encoding":{"x":{"field":"t","type":"quantitative"},"y":{"field":"p","type":"quantitative"}}},
{"data":{"values":[{"a":445.6,"b":467.5,"lo":11541,"hi":11665,"p":11603,"label":"11.605,30","s":"level"},{"a":445.6,"b":467.5,"lo":11190,"hi":11314,"p":11252,"label":"11.252,11","s":"level"},{"a":445.6,"b":467.5,"lo":11031,"hi":11155,"p":11093,"label":"11.100,48","s":"ema-fast"},{"a":445.6,"b":467.5,"lo":10836,"hi":10960,"p":10898,"label":"10.902,61","s":"level"},{"a":445.6,"b":467.5,"lo":10667,"hi":10791,"p":10729,"label":"10.737,68","s":"price"},{"a":445.6,"b":467.5,"lo":10543,"hi":10667,"p":10605,"label":"10.681,67","s":"ema-mid"},{"a":445.6,"b":467.5,"lo":9940,"hi":10064,"p":10002,"label":"10.002,18","s":"ema-slow"}]},"layer":[
{"mark":{"type":"rect","cornerRadius":2},"encoding":{"x":{"field":"a","type":"quantitative"},"x2":{"field":"b"},"y":{"field":"lo","type":"quantitative"},"y2":{"field":"hi"},"color":{"field":"s","type":"nominal","legend":null}}},
{"mark":{"type":"text","align":"center","baseline":"middle","fontSize":10,"font":"Roboto","fontWeight":500,"fill":"#ffffff"},"encoding":{"x":{"datum":456.5,"type":"quantitative"},"y":{"field":"p","type":"quantitative"},"text":{"field":"label"}}}]},
{"data":{"values":[{"a":446.8,"b":467.5,"lo":11953,"hi":12130}]},"mark":{"type":"rect","fill":"#ffffff","stroke":"#e0e3eb","cornerRadius":3},"encoding":{"x":{"field":"a","type":"quantitative"},"x2":{"field":"b"},"y":{"field":"lo","type":"quantitative"},"y2":{"field":"hi"}}},
{"data":{"values":[
{"t":453.2,"p":12041,"label":"TRY","s":"ink"},
{"t":2,"p":12059,"label":"BIST 100 Endeksi · 1G · BIST","s":"ink"},{"t":53.2,"p":12059,"label":"A","s":"ink"},{"t":56,"p":12059,"label":"10.877,45","s":"price"},{"t":75,"p":12059,"label":"Y","s":"ink"},{"t":77.8,"p":12059,"label":"10.877,45","s":"price"},{"t":96.8,"p":12059,"label":"D","s":"ink"},{"t":99.6,"p":12059,"label":"10.612,31","s":"price"},{"t":118.7,"p":12059,"label":"K","s":"ink"},{"t":121.4,"p":12059,"label":"10.737,68","s":"price"},{"t":140.9,"p":12059,"label":"Hacim","s":"ink"},{"t":151.6,"p":12059,"label":"8,13 B","s":"price"},
{"t":2,"p":11935,"label":"EMAs (8, 13, 21, 50, 100, 200)","s":"ink"},{"t":57.1,"p":11935,"label":"11.100,48","s":"ema-fast"},{"t":76.6,"p":11935,"label":"10.681,67","s":"ink"},{"t":96.4,"p":11935,"label":"10.002,18","s":"ema-slow"}]},"mark":{"type":"text","align":"left","baseline":"middle","fontSize":9.8,"font":"Roboto"},"encoding":{"x":{"field":"t","type":"quantitative"},"y":{"field":"p","type":"quantitative"},"text":{"field":"label"},"color":{"field":"s","type":"nominal","legend":null}}},
{"data":{"values":[{"t":-0.8,"p":12254,"label":"emredmrts tarafından TradingView.com ile Eyl 04, 2025 08:29 UTC+3 tarihinde oluşturuldu"}]},"mark":{"type":"text","align":"left","baseline":"middle","fontSize":10,"font":"Roboto","fill":"#131722"},"encoding":{"x":{"field":"t","type":"quantitative"},"y":{"field":"p","type":"quantitative"},"text":{"field":"label"}}},
{"data":{"values":[{"t":12.3,"p":6120,"label":"TradingView"}]},"mark":{"type":"text","align":"left","baseline":"middle","fontSize":16,"font":"Inter","fontWeight":700,"fill":"#131722"},"encoding":{"x":{"field":"t","type":"quantitative"},"y":{"field":"p","type":"quantitative"},"text":{"field":"label"}}},
{"data":{"values":[{"t":4.8,"p":6120}]},"mark":{"type":"point","filled":true,"opacity":1,"size":529,"color":"#131722","shape":"M-1,-0.5L-0.222,-0.5L-0.222,0.5L-0.611,0.5L-0.611,-0.111L-1,-0.111ZM0.111,0.5L0.556,0.5L0.972,-0.5L0.528,-0.5ZM-0.083,-0.306a0.194,0.194 0 1,0 0.389,0a0.194,0.194 0 1,0 -0.389,0Z"},"encoding":{"x":{"field":"t","type":"quantitative"},"y":{"field":"p","type":"quantitative"}}},
{"data":{"values":[{"t":397.2,"p":6625}]},"mark":{"type":"point","shape":"circle","filled":false,"opacity":1,"size":200,"stroke":"#9c27b0","strokeWidth":1.3},"encoding":{"x":{"field":"t","type":"quantitative"},"y":{"field":"p","type":"quantitative"}}},
{"data":{"values":[{"t":397.2,"p":6625}]},"mark":{"type":"point","filled":true,"opacity":1,"size":81,"color":"#9c27b0","shape":"M0.3,-1L-0.6,0.15L-0.05,0.15L-0.3,1L0.6,-0.15L0.05,-0.15Z"},"encoding":{"x":{"field":"t","type":"quantitative"},"y":{"field":"p","type":"quantitative"}}}
]}
